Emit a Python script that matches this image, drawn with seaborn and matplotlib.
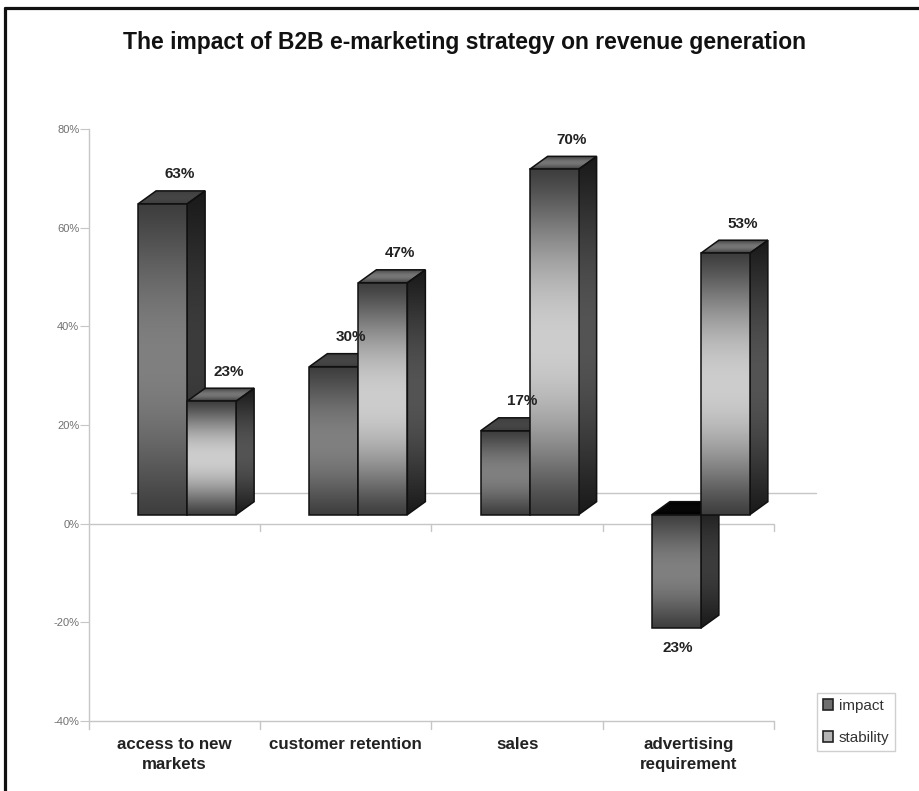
import numpy as np
import pandas as pd
import matplotlib
matplotlib.use("Agg")
import matplotlib.pyplot as plt
from matplotlib.patches import Polygon, Rectangle
from matplotlib.lines import Line2D
import seaborn as sns

categories = ["access to new\nmarkets", "customer retention", "sales", "advertising\nrequirement"]
impact = [63, 30, 17, -23]
stability = [23, 47, 70, 53]
y_ticks = [-40, -20, 0, 20, 40, 60, 80]
title = "The impact of B2B e-marketing strategy on revenue generation"

W, H = 920, 791
sns.set_theme(style="white")
plt.rcParams['font.family'] = ['Liberation Sans', 'DejaVu Sans']

df = pd.DataFrame({
    "category": categories * 2,
    "series": ["impact"] * 4 + ["stability"] * 4,
    "value": impact + stability,
})

fig = plt.figure(figsize=(W / 100, H / 100), dpi=100, facecolor="white")
L, R, T, B = 89, 774, 129, 721
ax = fig.add_axes([L / W, 1 - B / H, (R - L) / W, (B - T) / H])
sns.barplot(data=df, x="category", y="value", hue="series", order=categories,
            hue_order=["impact", "stability"], palette=["#6e6e6e", "#b4b4b4"],
            width=98 / 171.25, dodge=True, gap=0, errorbar=None, legend=False, ax=ax)
ax.set_xlim(-0.5, 3.5)
ax.set_ylim(-40, 80)
ax.set_xlabel("")
ax.set_ylabel("")
ppx = 171.25            # pixels per category
ppy = (B - T) / 120     # pixels per percent
SHIFT_X = 12.5 / ppx
BASE_Y = 9 / ppy
DX, DY = 18 / ppx, 13 / ppy

GREY = "#c6c6c6"
for s in ("top", "right", "bottom"):
    ax.spines[s].set_visible(False)
ax.spines["left"].set_color(GREY)
ax.spines["left"].set_linewidth(1.0)
ax.spines["left"].set_bounds(-40 - 8 / ppy, 80)
ax.spines["left"].set_zorder(1)

ax.set_yticks(y_ticks, [f"{v}%" for v in y_ticks])
ax.tick_params(axis="y", length=6.5, width=0.8, color=GREY, labelcolor="#707070",
               labelsize=8, pad=0.5, left=True)
ax.set_xticks(range(4), categories, fontweight="bold", fontsize=12.2, color="#222222",
              linespacing=1.42)
ax.tick_params(axis="x", length=0, pad=11.5)

# axis lines, category separators, floor back edge
ax.axhline(0, color=GREY, lw=1.0, zorder=1)
ax.axhline(-40, color=GREY, lw=1.0, zorder=1, clip_on=False)
for edge in np.arange(-0.5, 4.0):
    if edge > -0.5:
        ax.plot([edge, edge], [0, -7 / ppy], color=GREY, lw=1.0, zorder=1, clip_on=False)
        ax.plot([edge, edge], [-40, -40 - 8 / ppy], color=GREY, lw=1.0, zorder=1, clip_on=False)
ax.plot([-0.5 + 42 / ppx, 3.5 + 42 / ppx], [6.3, 6.3], color=GREY, lw=1.0, zorder=1, clip_on=False)


def ramp(end, mid, n=512):
    t = np.linspace(0, 1, n)
    g = (end + (mid - end) * np.sin(np.pi * t) ** 1.2) / 255
    return np.dstack([g, g, g]).reshape(n, 1, 3)


def face(pts, y0, y1, end, mid, z, edge="#101010"):
    xs = [p[0] for p in pts]
    im = ax.imshow(ramp(end, mid), extent=[min(xs), max(xs), y0, y1], origin="lower",
                   aspect="auto", zorder=z, interpolation="antialiased")
    poly = Polygon(pts, closed=True, transform=ax.transData, fill=False,
                   edgecolor=edge, lw=1.1, zorder=z + 0.1)
    ax.add_patch(poly)
    im.set_clip_path(poly)


patches = [p for p in ax.patches if abs(p.get_height()) > 0]
patches = sorted(patches, key=lambda p: p.get_x())
z = 3
labels = []
for p in patches:
    x0 = p.get_x() + SHIFT_X
    x1 = x0 + p.get_width()
    h = p.get_height()
    is_stab = matplotlib.colors.to_hex(p.get_facecolor()) == "#b4b4b4"
    p.set_visible(False)
    lo, hi = BASE_Y + min(h, 0), BASE_Y + max(h, 0)
    mid_f = 205 if is_stab else 128
    mid_s = 84 if is_stab else 60
    # side
    face([(x1, lo), (x1 + DX, lo + DY), (x1 + DX, hi + DY), (x1, hi)],
         lo, hi + DY, 26, mid_s, z)
    # top
    if h >= 0:
        face([(x0, hi), (x0 + DX, hi + DY), (x1 + DX, hi + DY), (x1, hi)],
             hi, hi + DY, 62, 118 if is_stab else 70, z)
    else:
        face([(x0, hi), (x0 + DX, hi + DY), (x1 + DX, hi + DY), (x1, hi)],
             hi, hi + DY, 0, 6, z)
    # front
    face([(x0, lo), (x0, hi), (x1, hi), (x1, lo)], lo, hi, 62, mid_f, z + 0.5)
    z += 1
    cx = (x0 + x1) / 2
    if h >= 0:
        labels.append((cx + 17 / ppx, hi + 29.5 / ppy, f"{abs(h):.0f}%"))
    else:
        labels.append((cx + 1 / ppx, lo - 20 / ppy, f"{abs(h):.0f}%"))

for x, y, s in labels:
    ax.text(x, y, s, ha="center", va="center", fontsize=11, fontweight="bold",
            color="#222222", zorder=50, clip_on=False)
ax.set_xlim(-0.5, 3.5)
ax.set_ylim(-40, 80)

# title
fig.text(465 / W, 1 - 42 / H, title, ha="center", va="center", fontsize=16.5,
         fontweight="bold", color="#111111")

# legend
handles = [Rectangle((0, 0), 1, 1, facecolor="#6e6e6e", edgecolor="#222222", lw=1.2),
           Rectangle((0, 0), 1, 1, facecolor="#b4b4b4", edgecolor="#222222", lw=1.2)]
leg = fig.legend(handles, ["impact", "stability"], loc="lower left",
                 bbox_to_anchor=(817 / W, 1 - 750.5 / H), fontsize=11, frameon=True,
                 fancybox=False, edgecolor="#cfcfcf", framealpha=1, labelcolor="#333333",
                 handlelength=0.7, handleheight=0.7, handletextpad=0.35,
                 borderpad=0.38, labelspacing=1.15, borderaxespad=0)
leg.get_frame().set_linewidth(1.0)

# frame on the top and left edges of the picture
fig.add_artist(Line2D([5.5 / W, 5.5 / W], [0, 1 - 7.5 / H], color="#111111", lw=2.3,
                      transform=fig.transFigure))
fig.add_artist(Line2D([5.5 / W, 1], [1 - 7.5 / H, 1 - 7.5 / H], color="#111111", lw=2.3,
                      transform=fig.transFigure))

fig.savefig("out.png", dpi=100)
